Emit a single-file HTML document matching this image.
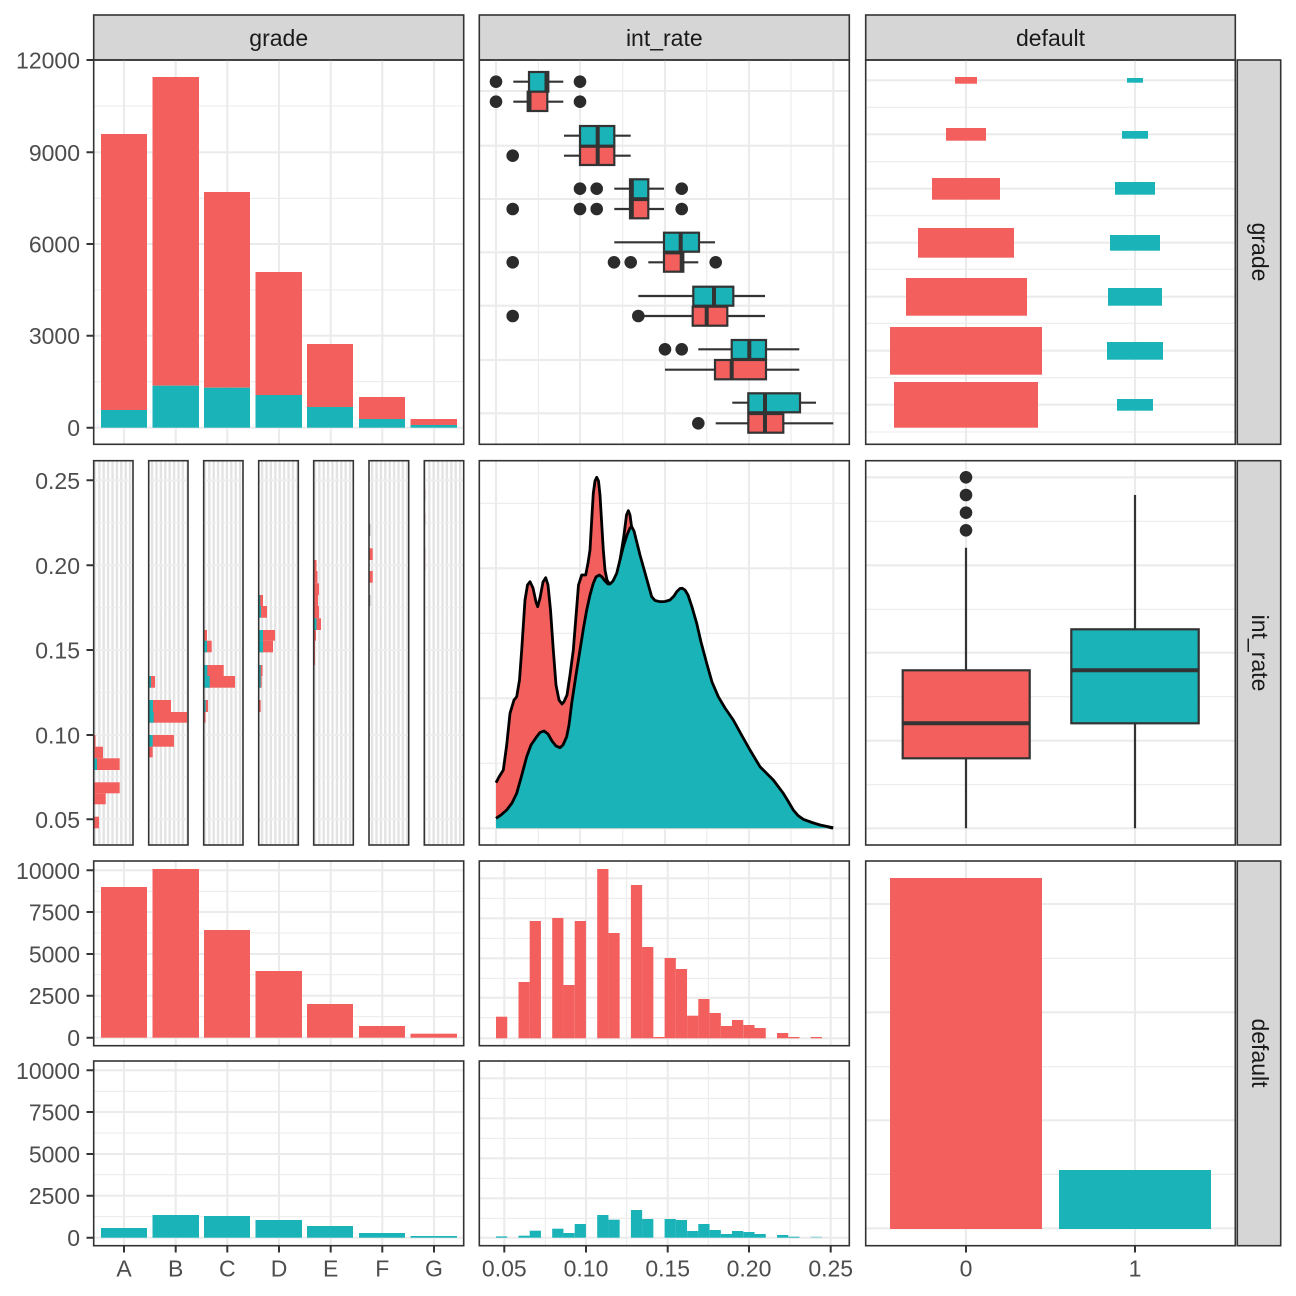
<!DOCTYPE html>
<html><head><meta charset="utf-8"><style>
html,body{margin:0;padding:0;background:#fff;}
svg{display:block;}
text{font-family:"Liberation Sans",Arial,sans-serif;}
.ax{font-size:23px;fill:#4D4D4D;}
.st{font-size:23px;fill:#1A1A1A;}
.mj{stroke:#EBEBEB;stroke-width:2.1;}
.mn{stroke:#EBEBEB;stroke-width:1.1;}
.pb{fill:none;stroke:#333;stroke-width:1.6;}
.sb{fill:#D6D6D6;stroke:#333;stroke-width:1.6;}
.tk{stroke:#333;stroke-width:2;}
.r{fill:#F25F5C;}
.t{fill:#19B3B8;}
.bx{stroke:#333;stroke-width:2.2;}
.wk{stroke:#333;stroke-width:2.2;fill:none;}
.md{stroke:#333;stroke-width:4;}
.pt{fill:#2B2B2B;}
</style></head><body>
<svg width="1296" height="1296" viewBox="0 0 1296 1296" xmlns="http://www.w3.org/2000/svg">
<defs>
<pattern id="vs" patternUnits="userSpaceOnUse" width="4.4" height="10" x="93.7" y="0">
<rect x="0" y="0" width="2.4" height="10" fill="#E3E3E3"/>
</pattern>
</defs>
<rect width="1296" height="1296" fill="#fff"/>

<!-- ===== Top strips ===== -->
<rect class="sb" x="93.7" y="15" width="370" height="45"/>
<rect class="sb" x="479.3" y="15" width="370" height="45"/>
<rect class="sb" x="865.7" y="15" width="369.6" height="45"/>
<text class="st" x="278.7" y="46" text-anchor="middle">grade</text>
<text class="st" x="664.3" y="46" text-anchor="middle">int_rate</text>
<text class="st" x="1050.5" y="46" text-anchor="middle">default</text>

<!-- ===== Right strips ===== -->
<rect class="sb" x="1237.3" y="60" width="43.4" height="384.3"/>
<rect class="sb" x="1237.3" y="460.7" width="43.4" height="384.3"/>
<rect class="sb" x="1237.3" y="861" width="43.4" height="384.7"/>
<text class="st" transform="translate(1259,252) rotate(90)" x="0" y="7" text-anchor="middle">grade</text>
<text class="st" transform="translate(1259,653) rotate(90)" x="0" y="7" text-anchor="middle">int_rate</text>
<text class="st" transform="translate(1259,1053) rotate(90)" x="0" y="7" text-anchor="middle">default</text>

<!-- ===== Row1 Col1: stacked bars ===== -->
<g>
<line class="mn" x1="93.7" x2="463.7" y1="106" y2="106"/>
<line class="mn" x1="93.7" x2="463.7" y1="198.3" y2="198.3"/>
<line class="mn" x1="93.7" x2="463.7" y1="290" y2="290"/>
<line class="mn" x1="93.7" x2="463.7" y1="381.7" y2="381.7"/>
<line class="mj" x1="93.7" x2="463.7" y1="152.3" y2="152.3"/>
<line class="mj" x1="93.7" x2="463.7" y1="244" y2="244"/>
<line class="mj" x1="93.7" x2="463.7" y1="335.7" y2="335.7"/>
<line class="mj" x1="93.7" x2="463.7" y1="427.7" y2="427.7"/>
<line class="mj" x1="124" x2="124" y1="60" y2="444.3"/>
<line class="mj" x1="175.7" x2="175.7" y1="60" y2="444.3"/>
<line class="mj" x1="227.3" x2="227.3" y1="60" y2="444.3"/>
<line class="mj" x1="279" x2="279" y1="60" y2="444.3"/>
<line class="mj" x1="330.7" x2="330.7" y1="60" y2="444.3"/>
<line class="mj" x1="382.3" x2="382.3" y1="60" y2="444.3"/>
<line class="mj" x1="434" x2="434" y1="60" y2="444.3"/>
<rect class="r" x="101" y="134" width="46" height="276"/>
<rect class="t" x="101" y="410" width="46" height="17.7"/>
<rect class="r" x="152.5" y="77" width="46.5" height="308.7"/>
<rect class="t" x="152.5" y="385.7" width="46.5" height="42"/>
<rect class="r" x="204" y="192" width="46" height="195.7"/>
<rect class="t" x="204" y="387.7" width="46" height="40"/>
<rect class="r" x="255.5" y="272" width="46.5" height="123"/>
<rect class="t" x="255.5" y="395" width="46.5" height="32.7"/>
<rect class="r" x="307" y="344" width="46" height="63"/>
<rect class="t" x="307" y="407" width="46" height="20.7"/>
<rect class="r" x="359" y="397" width="46" height="22"/>
<rect class="t" x="359" y="419" width="46" height="8.7"/>
<rect class="r" x="410.5" y="419" width="46.5" height="6"/>
<rect class="t" x="410.5" y="425" width="46.5" height="2.7"/>
<rect class="pb" x="93.7" y="60" width="370" height="384.3"/>
</g>

<!-- ===== Row1 Col2: boxplots ===== -->
<g>
<line class="mn" x1="538.3" x2="538.3" y1="60" y2="444.3"/>
<line class="mn" x1="622.7" x2="622.7" y1="60" y2="444.3"/>
<line class="mn" x1="706.7" x2="706.7" y1="60" y2="444.3"/>
<line class="mn" x1="791" x2="791" y1="60" y2="444.3"/>
<line class="mj" x1="496" x2="496" y1="60" y2="444.3"/>
<line class="mj" x1="580" x2="580" y1="60" y2="444.3"/>
<line class="mj" x1="665" x2="665" y1="60" y2="444.3"/>
<line class="mj" x1="749" x2="749" y1="60" y2="444.3"/>
<line class="mj" x1="833.3" x2="833.3" y1="60" y2="444.3"/>
<line class="mj" x1="479.3" x2="849.3" y1="91" y2="91"/>
<line class="mj" x1="479.3" x2="849.3" y1="145.7" y2="145.7"/>
<line class="mj" x1="479.3" x2="849.3" y1="199" y2="199"/>
<line class="mj" x1="479.3" x2="849.3" y1="252.3" y2="252.3"/>
<line class="mj" x1="479.3" x2="849.3" y1="305.7" y2="305.7"/>
<line class="mj" x1="479.3" x2="849.3" y1="360" y2="360"/>
<line class="mj" x1="479.3" x2="849.3" y1="413.3" y2="413.3"/>

<!-- A -->
<path class="wk" d="M513.3 81.7H529M548.3 81.7H563.3M513.3 101.7H527.7M547.3 101.7H563.3"/>
<rect class="t bx" x="529" y="72" width="19.3" height="19.7"/>
<line class="md" x1="546.5" x2="546.5" y1="72" y2="91.7"/>
<rect class="r bx" x="527.7" y="91.7" width="19.6" height="19.3"/>
<line class="md" x1="529.5" x2="529.5" y1="91.7" y2="111"/>
<circle class="pt" cx="496" cy="81.7" r="6.3"/><circle class="pt" cx="580" cy="81.7" r="6.3"/>
<circle class="pt" cx="496" cy="101.7" r="6.3"/><circle class="pt" cx="580" cy="101.7" r="6.3"/>
<!-- B -->
<path class="wk" d="M564 135.7H580M614.3 135.7H630.7M564 155.7H580M614.3 155.7H630.7"/>
<rect class="t bx" x="580" y="126" width="34.3" height="19.7"/>
<line class="md" x1="597.7" x2="597.7" y1="126" y2="145.7"/>
<rect class="r bx" x="580" y="146.7" width="34.3" height="18.3"/>
<line class="md" x1="597.7" x2="597.7" y1="146.7" y2="165"/>
<circle class="pt" cx="512.7" cy="155.7" r="6.3"/>
<!-- C -->
<path class="wk" d="M614.3 188.7H630M648.3 188.7H664M614.3 209H630M648.3 209H664"/>
<rect class="t bx" x="630" y="179.3" width="18.3" height="19"/>
<line class="md" x1="631.8" x2="631.8" y1="179.3" y2="198.3"/>
<rect class="r bx" x="630" y="200" width="18.3" height="18.3"/>
<line class="md" x1="631.8" x2="631.8" y1="200" y2="218.3"/>
<circle class="pt" cx="580" cy="188.7" r="6.3"/><circle class="pt" cx="596.7" cy="188.7" r="6.3"/><circle class="pt" cx="681.7" cy="188.7" r="6.3"/>
<circle class="pt" cx="512.7" cy="209" r="6.3"/><circle class="pt" cx="580" cy="209" r="6.3"/><circle class="pt" cx="596.7" cy="209" r="6.3"/><circle class="pt" cx="681.7" cy="209" r="6.3"/>
<!-- D -->
<path class="wk" d="M614.3 242.3H664M699 242.3H715M648.3 262.3H664M683.3 262.3H698.3"/>
<rect class="t bx" x="664" y="232.7" width="35" height="19"/>
<line class="md" x1="680.7" x2="680.7" y1="232.7" y2="251.7"/>
<rect class="r bx" x="664" y="253.3" width="19.3" height="18.4"/>
<line class="md" x1="681.7" x2="681.7" y1="253.3" y2="271.7"/>
<circle class="pt" cx="512.7" cy="262.3" r="6.3"/><circle class="pt" cx="614" cy="262.3" r="6.3"/><circle class="pt" cx="630.7" cy="262.3" r="6.3"/><circle class="pt" cx="715.7" cy="262.3" r="6.3"/>
<!-- E -->
<path class="wk" d="M638.3 296H693.3M733.3 296H765M638.3 316H692.7M727.3 316H765"/>
<rect class="t bx" x="693.3" y="286.7" width="40" height="19"/>
<line class="md" x1="714" x2="714" y1="286.7" y2="305.7"/>
<rect class="r bx" x="692.7" y="306.7" width="34.6" height="19"/>
<line class="md" x1="706.7" x2="706.7" y1="306.7" y2="325.7"/>
<circle class="pt" cx="512.7" cy="316" r="6.3"/><circle class="pt" cx="638.3" cy="316" r="6.3"/>
<!-- F -->
<path class="wk" d="M698.3 349.3H731.7M766 349.3H799.3M665 369.7H715M766 369.7H799.3"/>
<rect class="t bx" x="731.7" y="340" width="34.3" height="19"/>
<line class="md" x1="749.3" x2="749.3" y1="340" y2="359"/>
<rect class="r bx" x="715" y="360" width="51" height="19.3"/>
<line class="md" x1="731.7" x2="731.7" y1="360" y2="379.3"/>
<circle class="pt" cx="665" cy="349.3" r="6.3"/><circle class="pt" cx="681.7" cy="349.3" r="6.3"/>
<!-- G -->
<path class="wk" d="M732.3 402.7H748.3M800 402.7H816M715.7 423.3H748.3M783.3 423.3H833.3"/>
<rect class="t bx" x="748.3" y="393.3" width="51.7" height="19"/>
<line class="md" x1="765" x2="765" y1="393.3" y2="412.3"/>
<rect class="r bx" x="748.3" y="414" width="35" height="18.7"/>
<line class="md" x1="765" x2="765" y1="414" y2="432.7"/>
<circle class="pt" cx="698.3" cy="423.3" r="6.3"/>
<rect class="pb" x="479.3" y="60" width="370" height="384.3"/>
</g>

<!-- ===== Row1 Col3: bars by grade ===== -->
<g>
<line class="mn" x1="865.7" x2="1235.3" y1="107.3" y2="107.3"/>
<line class="mn" x1="865.7" x2="1235.3" y1="161.7" y2="161.7"/>
<line class="mn" x1="865.7" x2="1235.3" y1="215.7" y2="215.7"/>
<line class="mn" x1="865.7" x2="1235.3" y1="269.3" y2="269.3"/>
<line class="mn" x1="865.7" x2="1235.3" y1="323.3" y2="323.3"/>
<line class="mn" x1="865.7" x2="1235.3" y1="377.7" y2="377.7"/>
<line class="mn" x1="865.7" x2="1235.3" y1="432" y2="432"/>
<line class="mj" x1="865.7" x2="1235.3" y1="80.3" y2="80.3"/>
<line class="mj" x1="865.7" x2="1235.3" y1="134.3" y2="134.3"/>
<line class="mj" x1="865.7" x2="1235.3" y1="188.7" y2="188.7"/>
<line class="mj" x1="865.7" x2="1235.3" y1="242.7" y2="242.7"/>
<line class="mj" x1="865.7" x2="1235.3" y1="296.7" y2="296.7"/>
<line class="mj" x1="865.7" x2="1235.3" y1="350.7" y2="350.7"/>
<line class="mj" x1="865.7" x2="1235.3" y1="404.7" y2="404.7"/>
<line class="mj" x1="966" x2="966" y1="60" y2="444.3"/>
<line class="mj" x1="1135" x2="1135" y1="60" y2="444.3"/>
<rect class="r" x="955" y="77" width="22" height="6.7"/>
<rect class="r" x="946" y="128" width="40" height="12.7"/>
<rect class="r" x="932" y="178" width="68" height="21.7"/>
<rect class="r" x="918" y="228" width="96" height="29.7"/>
<rect class="r" x="906" y="278" width="121" height="37.7"/>
<rect class="r" x="890" y="327" width="152" height="47.7"/>
<rect class="r" x="894" y="382" width="144" height="45.7"/>
<rect class="t" x="1127" y="78" width="16" height="4.7"/>
<rect class="t" x="1122" y="131" width="26" height="7.7"/>
<rect class="t" x="1115" y="182" width="40" height="12.7"/>
<rect class="t" x="1110" y="235" width="50" height="15.7"/>
<rect class="t" x="1108" y="288" width="54" height="17.7"/>
<rect class="t" x="1107" y="342" width="56" height="17.7"/>
<rect class="t" x="1117" y="399" width="36" height="11.7"/>
<rect class="pb" x="865.7" y="60" width="369.6" height="384.3"/>
</g>

<!-- ===== Row2 Col1: per-grade horizontal histograms ===== -->
<g>
<g fill="url(#vs)">
<rect x="93.7" y="460.7" width="39.3" height="384.3"/>
<rect x="148.7" y="460.7" width="39.3" height="384.3"/>
<rect x="203.7" y="460.7" width="39.3" height="384.3"/>
<rect x="258.7" y="460.7" width="39.6" height="384.3"/>
<rect x="313.7" y="460.7" width="39.6" height="384.3"/>
<rect x="369" y="460.7" width="39.7" height="384.3"/>
<rect x="424.3" y="460.7" width="39.4" height="384.3"/>
</g>
<g stroke="#EDEDED" stroke-width="1.8">
<path d="M93.7 480.3H133M148.7 480.3H188M203.7 480.3H243M258.7 480.3H298.3M313.7 480.3H353.3M369 480.3H408.7M424.3 480.3H463.7"/>
<path d="M93.7 565.3H133M148.7 565.3H188M203.7 565.3H243M258.7 565.3H298.3M313.7 565.3H353.3M369 565.3H408.7M424.3 565.3H463.7"/>
<path d="M93.7 650H133M148.7 650H188M203.7 650H243M258.7 650H298.3M313.7 650H353.3M369 650H408.7M424.3 650H463.7"/>
<path d="M93.7 735H133M148.7 735H188M203.7 735H243M258.7 735H298.3M313.7 735H353.3M369 735H408.7M424.3 735H463.7"/>
<path d="M93.7 819.3H133M148.7 819.3H188M203.7 819.3H243M258.7 819.3H298.3M313.7 819.3H353.3M369 819.3H408.7M424.3 819.3H463.7"/>
</g>
<g stroke="#EDEDED" stroke-width="1">
<path d="M93.7 522.8H133M148.7 522.8H188M203.7 522.8H243M258.7 522.8H298.3M313.7 522.8H353.3M369 522.8H408.7M424.3 522.8H463.7"/>
<path d="M93.7 607.7H133M148.7 607.7H188M203.7 607.7H243M258.7 607.7H298.3M313.7 607.7H353.3M369 607.7H408.7M424.3 607.7H463.7"/>
<path d="M93.7 692.5H133M148.7 692.5H188M203.7 692.5H243M258.7 692.5H298.3M313.7 692.5H353.3M369 692.5H408.7M424.3 692.5H463.7"/>
<path d="M93.7 777H133M148.7 777H188M203.7 777H243M258.7 777H298.3M313.7 777H353.3M369 777H408.7M424.3 777H463.7"/>
</g>
<!-- A -->
<rect class="r" x="93.7" y="816.7" width="5.3" height="11.6"/>
<rect class="r" x="93.7" y="793.3" width="12" height="11"/>
<rect class="r" x="93.7" y="782.3" width="26" height="11"/>
<rect class="r" x="93.7" y="758.3" width="26" height="11.7"/>
<rect class="t" x="93.7" y="758.3" width="3.3" height="11.7"/>
<rect class="r" x="93.7" y="746.7" width="9.3" height="11.6"/>
<rect class="r" x="93.7" y="735" width="1.8" height="11.7"/>
<!-- B -->
<rect class="r" x="148.7" y="676" width="6.3" height="11.7"/>
<rect class="t" x="148.7" y="676" width="2.3" height="11.7"/>
<rect class="r" x="148.7" y="700" width="22.3" height="12"/>
<rect class="t" x="148.7" y="700" width="4.3" height="12"/>
<rect class="r" x="148.7" y="712" width="38.3" height="10.7"/>
<rect class="t" x="148.7" y="712" width="5" height="10.7"/>
<rect class="r" x="148.7" y="735" width="25.3" height="11.7"/>
<rect class="t" x="148.7" y="735" width="4" height="11.7"/>
<rect class="r" x="148.7" y="746.7" width="4" height="10.6"/>
<!-- C -->
<rect class="r" x="203.7" y="630" width="3.3" height="10.7"/>
<rect class="r" x="203.7" y="640.7" width="8" height="11.6"/>
<rect class="t" x="203.7" y="640.7" width="3.3" height="11.6"/>
<rect class="r" x="203.7" y="665" width="20" height="11"/>
<rect class="t" x="203.7" y="665" width="3.6" height="11"/>
<rect class="r" x="203.7" y="676" width="31.3" height="11.7"/>
<rect class="t" x="203.7" y="676" width="6" height="11.7"/>
<rect class="r" x="203.7" y="700" width="4.3" height="12"/>
<rect class="t" x="203.7" y="700" width="2" height="12"/>
<rect class="r" x="203.7" y="712" width="1.8" height="10.7"/>
<!-- D -->
<rect class="r" x="258.7" y="595" width="4.3" height="11"/>
<rect class="t" x="258.7" y="595" width="1.5" height="11"/>
<rect class="r" x="258.7" y="606" width="8.3" height="11.7"/>
<rect class="t" x="258.7" y="606" width="2.3" height="11.7"/>
<rect class="r" x="258.7" y="630" width="16.3" height="10.7"/>
<rect class="t" x="258.7" y="630" width="4.3" height="10.7"/>
<rect class="r" x="258.7" y="640.7" width="14.3" height="11.6"/>
<rect class="t" x="258.7" y="640.7" width="4.3" height="11.6"/>
<rect class="r" x="258.7" y="665" width="3.8" height="11"/>
<rect class="t" x="258.7" y="665" width="2" height="11"/>
<rect class="r" x="258.7" y="676" width="3" height="11.7"/>
<rect class="t" x="258.7" y="676" width="2" height="11.7"/>
<rect class="r" x="258.7" y="700" width="2" height="12"/>
<!-- E -->
<rect class="r" x="313.7" y="560" width="2.8" height="11"/>
<rect class="r" x="313.7" y="571" width="3.8" height="12.3"/>
<rect class="r" x="313.7" y="583.3" width="5.3" height="11.7"/>
<rect class="r" x="313.7" y="595" width="4.3" height="11"/>
<rect class="r" x="313.7" y="606" width="5.3" height="12.3"/>
<rect class="r" x="313.7" y="618.3" width="7.3" height="11.7"/>
<rect class="t" x="313.7" y="618.3" width="2.8" height="11.7"/>
<rect class="r" x="313.7" y="630" width="2.3" height="10.7"/>
<rect class="r" x="313.7" y="640.7" width="1.3" height="24.3"/>
<!-- F -->
<rect fill="#9A8A8A" x="369" y="524" width="1.3" height="12"/>
<rect class="r" x="369" y="548.3" width="3.7" height="11.7"/>
<rect class="r" x="369" y="571" width="3.7" height="11.7"/>
<rect fill="#9A8A8A" x="369" y="595" width="1.3" height="11"/>
<!-- G -->
<rect fill="#C9B0AE" x="424.3" y="489" width="1.2" height="11.7"/>
<rect fill="#C9B0AE" x="424.3" y="513" width="1.2" height="12"/>
<rect fill="#C9B0AE" x="424.3" y="548" width="1.2" height="22"/>
<rect class="pb" x="93.7" y="460.7" width="39.3" height="384.3"/>
<rect class="pb" x="148.7" y="460.7" width="39.3" height="384.3"/>
<rect class="pb" x="203.7" y="460.7" width="39.3" height="384.3"/>
<rect class="pb" x="258.7" y="460.7" width="39.6" height="384.3"/>
<rect class="pb" x="313.7" y="460.7" width="39.6" height="384.3"/>
<rect class="pb" x="369" y="460.7" width="39.7" height="384.3"/>
<rect class="pb" x="424.3" y="460.7" width="39.4" height="384.3"/>
</g>

<!-- ===== Row2 Col2: density ===== -->
<g>
<line class="mn" x1="538.3" x2="538.3" y1="460.7" y2="845"/>
<line class="mn" x1="622.7" x2="622.7" y1="460.7" y2="845"/>
<line class="mn" x1="706.7" x2="706.7" y1="460.7" y2="845"/>
<line class="mn" x1="791" x2="791" y1="460.7" y2="845"/>
<line class="mj" x1="496" x2="496" y1="460.7" y2="845"/>
<line class="mj" x1="580" x2="580" y1="460.7" y2="845"/>
<line class="mj" x1="665" x2="665" y1="460.7" y2="845"/>
<line class="mj" x1="749" x2="749" y1="460.7" y2="845"/>
<line class="mj" x1="833.3" x2="833.3" y1="460.7" y2="845"/>
<line class="mn" x1="479.3" x2="849.3" y1="503.3" y2="503.3"/>
<line class="mn" x1="479.3" x2="849.3" y1="633.3" y2="633.3"/>
<line class="mn" x1="479.3" x2="849.3" y1="763.3" y2="763.3"/>
<line class="mj" x1="479.3" x2="849.3" y1="568.3" y2="568.3"/>
<line class="mj" x1="479.3" x2="849.3" y1="698.3" y2="698.3"/>
<line class="mj" x1="479.3" x2="849.3" y1="828.3" y2="828.3"/>
<path class="r" d="M496 828.3 L496 782.7 L499 777 L503.3 770 L506.7 745 L510 713.3 L514 700 L516.7 696.7 L519.5 680 L521.7 650 L525 600 L527.5 585 L530 581.7 L533 588 L536 602 L537.7 606.7 L540 598 L543 582 L545.7 577.7 L548 585 L550.5 610 L553.3 650 L556 685 L559 700 L562 704 L564 701.7 L567 695 L570 675 L573.3 650 L576.5 610 L578.5 585 L581.7 575 L585.7 575 L588 563 L590 550 L592 515 L593.3 493.3 L595 481 L596.7 477.3 L598.5 481 L600 495 L601.5 520 L603.3 550 L605 570 L607 580 L612 588 L616 578 L620 560 L624 535 L626.5 515 L628.3 510.7 L630 515 L632 530 L636 560 L645 590 L660 615 L680 610 L700 650 L720 710 L750 765 L780 800 L800 820 L833 828.3 Z"/>
<path fill="none" stroke="#000" stroke-width="2.8" stroke-linejoin="round" d="M496 782.7 L499 777 L503.3 770 L506.7 745 L510 713.3 L514 700 L516.7 696.7 L519.5 680 L521.7 650 L525 600 L527.5 585 L530 581.7 L533 588 L536 602 L537.7 606.7 L540 598 L543 582 L545.7 577.7 L548 585 L550.5 610 L553.3 650 L556 685 L559 700 L562 704 L564 701.7 L567 695 L570 675 L573.3 650 L576.5 610 L578.5 585 L581.7 575 L585.7 575 L588 563 L590 550 L592 515 L593.3 493.3 L595 481 L596.7 477.3 L598.5 481 L600 495 L601.5 520 L603.3 550 L605 570 L607 580 L612 588 L616 578 L620 560 L624 535 L626.5 515 L628.3 510.7 L630 515 L632 530 L636 560 L645 590 L660 615 L680 610 L700 650 L720 710 L750 765 L780 800 L800 820 L833 828.3"/>
<path class="t" d="M496 828.3 L496 818.3 L501 815 L506.7 810 L512 803 L516.7 793.3 L521 778 L526.7 756.7 L531 745 L536.7 736.7 L540 732.5 L544 731 L548 734 L552 741 L556 746 L560 747.7 L563 745 L566.7 736.7 L569 725 L571.7 703.3 L576 675 L580 650 L583.5 628 L586.7 610 L590 595 L593.3 583.3 L596 577 L599.3 575 L602 577 L605 581 L608 584 L610 584 L613 581 L616.7 573.3 L620 560 L623.3 546.7 L627 535 L630 528 L631.7 526.7 L634 531 L637 543 L640 555 L643.3 566.7 L647 580 L651.7 596.7 L655 600.5 L660 601.7 L665 601.5 L670 600 L674 596 L676.7 591.7 L680 588.5 L682.3 588.3 L685 590 L688 595 L692 607 L696.7 623.3 L701 642 L706.7 663.3 L712 682 L718.3 696.7 L725 708 L733.3 720 L741 734 L750 750 L760 766.7 L773.3 780 L783.3 793.3 L788 801 L793.3 810 L798 815.5 L803.3 819.3 L812 822.5 L820 825 L833.3 827.7 L833.3 828.3 Z"/>
<path fill="none" stroke="#000" stroke-width="2.8" stroke-linejoin="round" d="M496 818.3 L501 815 L506.7 810 L512 803 L516.7 793.3 L521 778 L526.7 756.7 L531 745 L536.7 736.7 L540 732.5 L544 731 L548 734 L552 741 L556 746 L560 747.7 L563 745 L566.7 736.7 L569 725 L571.7 703.3 L576 675 L580 650 L583.5 628 L586.7 610 L590 595 L593.3 583.3 L596 577 L599.3 575 L602 577 L605 581 L608 584 L610 584 L613 581 L616.7 573.3 L620 560 L623.3 546.7 L627 535 L630 528 L631.7 526.7 L634 531 L637 543 L640 555 L643.3 566.7 L647 580 L651.7 596.7 L655 600.5 L660 601.7 L665 601.5 L670 600 L674 596 L676.7 591.7 L680 588.5 L682.3 588.3 L685 590 L688 595 L692 607 L696.7 623.3 L701 642 L706.7 663.3 L712 682 L718.3 696.7 L725 708 L733.3 720 L741 734 L750 750 L760 766.7 L773.3 780 L783.3 793.3 L788 801 L793.3 810 L798 815.5 L803.3 819.3 L812 822.5 L820 825 L833.3 827.7"/>
<rect class="pb" x="479.3" y="460.7" width="370" height="384.3"/>
</g>

<!-- ===== Row2 Col3: boxplots by default ===== -->
<g>
<line class="mn" x1="865.7" x2="1235.3" y1="521.3" y2="521.3"/>
<line class="mn" x1="865.7" x2="1235.3" y1="609.3" y2="609.3"/>
<line class="mn" x1="865.7" x2="1235.3" y1="696.7" y2="696.7"/>
<line class="mn" x1="865.7" x2="1235.3" y1="784.7" y2="784.7"/>
<line class="mj" x1="865.7" x2="1235.3" y1="477.3" y2="477.3"/>
<line class="mj" x1="865.7" x2="1235.3" y1="565.3" y2="565.3"/>
<line class="mj" x1="865.7" x2="1235.3" y1="652.7" y2="652.7"/>
<line class="mj" x1="865.7" x2="1235.3" y1="740.7" y2="740.7"/>
<line class="mj" x1="865.7" x2="1235.3" y1="828.3" y2="828.3"/>
<line class="mj" x1="966" x2="966" y1="460.7" y2="845"/>
<line class="mj" x1="1135" x2="1135" y1="460.7" y2="845"/>
<path class="wk" d="M966 547.7V670.3M966 758.3V828.3M1135 495V629.3M1135 723.3V828.3"/>
<rect class="r bx" x="902.7" y="670.3" width="127" height="88"/>
<line class="md" x1="902.7" x2="1029.7" y1="723.3" y2="723.3"/>
<rect class="t bx" x="1071.3" y="629.3" width="127.4" height="94"/>
<line class="md" x1="1071.3" x2="1198.7" y1="670.3" y2="670.3"/>
<circle class="pt" cx="966" cy="477.3" r="6.3"/>
<circle class="pt" cx="966" cy="495" r="6.3"/>
<circle class="pt" cx="966" cy="512.7" r="6.3"/>
<circle class="pt" cx="966" cy="530.3" r="6.3"/>
<rect class="pb" x="865.7" y="460.7" width="369.6" height="384.3"/>
</g>

<!-- ===== Row3 Col1 upper (default 0) ===== -->
<g>
<line class="mn" x1="93.7" x2="463.7" y1="891.3" y2="891.3"/>
<line class="mn" x1="93.7" x2="463.7" y1="933" y2="933"/>
<line class="mn" x1="93.7" x2="463.7" y1="974.7" y2="974.7"/>
<line class="mn" x1="93.7" x2="463.7" y1="1016.7" y2="1016.7"/>
<line class="mj" x1="93.7" x2="463.7" y1="870.3" y2="870.3"/>
<line class="mj" x1="93.7" x2="463.7" y1="912" y2="912"/>
<line class="mj" x1="93.7" x2="463.7" y1="954" y2="954"/>
<line class="mj" x1="93.7" x2="463.7" y1="995.7" y2="995.7"/>
<line class="mj" x1="93.7" x2="463.7" y1="1037.7" y2="1037.7"/>
<path class="mj" d="M124 861V1045.7M175.7 861V1045.7M227.3 861V1045.7M279 861V1045.7M330.7 861V1045.7M382.3 861V1045.7M434 861V1045.7"/>
<rect class="r" x="101" y="887" width="46" height="150.7"/>
<rect class="r" x="152.5" y="869" width="46.5" height="168.7"/>
<rect class="r" x="204" y="930" width="46" height="107.7"/>
<rect class="r" x="255.5" y="971" width="46.5" height="66.7"/>
<rect class="r" x="307" y="1004" width="46" height="33.7"/>
<rect class="r" x="359" y="1026" width="46" height="11.7"/>
<rect class="r" x="410.5" y="1033.7" width="46.5" height="4"/>
<rect class="pb" x="93.7" y="861" width="370" height="184.7"/>
</g>

<!-- ===== Row3 Col1 lower (default 1) ===== -->
<g>
<line class="mn" x1="93.7" x2="463.7" y1="1091.3" y2="1091.3"/>
<line class="mn" x1="93.7" x2="463.7" y1="1133" y2="1133"/>
<line class="mn" x1="93.7" x2="463.7" y1="1174.7" y2="1174.7"/>
<line class="mn" x1="93.7" x2="463.7" y1="1216.7" y2="1216.7"/>
<line class="mj" x1="93.7" x2="463.7" y1="1070.3" y2="1070.3"/>
<line class="mj" x1="93.7" x2="463.7" y1="1112" y2="1112"/>
<line class="mj" x1="93.7" x2="463.7" y1="1154" y2="1154"/>
<line class="mj" x1="93.7" x2="463.7" y1="1195.7" y2="1195.7"/>
<line class="mj" x1="93.7" x2="463.7" y1="1237.7" y2="1237.7"/>
<path class="mj" d="M124 1061V1245.7M175.7 1061V1245.7M227.3 1061V1245.7M279 1061V1245.7M330.7 1061V1245.7M382.3 1061V1245.7M434 1061V1245.7"/>
<rect class="t" x="101" y="1228" width="46" height="9.7"/>
<rect class="t" x="152.5" y="1215" width="46.5" height="22.7"/>
<rect class="t" x="204" y="1216" width="46" height="21.7"/>
<rect class="t" x="255.5" y="1220" width="46.5" height="17.7"/>
<rect class="t" x="307" y="1226" width="46" height="11.7"/>
<rect class="t" x="359" y="1233" width="46" height="4.7"/>
<rect class="t" x="410.5" y="1236" width="46.5" height="1.7"/>
<rect class="pb" x="93.7" y="1061" width="370" height="184.7"/>
</g>

<!-- ===== Row3 Col2 upper/lower histograms ===== -->
<g>
<path class="mn" d="M545.3 861V1045.7M626.7 861V1045.7M708.3 861V1045.7M790 861V1045.7M545.3 1061V1245.7M626.7 1061V1245.7M708.3 1061V1245.7M790 1061V1245.7"/>
<path class="mj" d="M504.3 861V1045.7M586 861V1045.7M667.7 861V1045.7M749 861V1045.7M830.7 861V1045.7M504.3 1061V1245.7M586 1061V1245.7M667.7 1061V1245.7M749 1061V1245.7M830.7 1061V1245.7"/>
<path class="mn" d="M479.3 898.3H849.3M479.3 938.3H849.3M479.3 978.3H849.3M479.3 1017.7H849.3M479.3 1098.3H849.3M479.3 1138.3H849.3M479.3 1178.3H849.3M479.3 1218.3H849.3"/>
<path class="mj" d="M479.3 878.3H849.3M479.3 918.3H849.3M479.3 958.3H849.3M479.3 997.7H849.3M479.3 1038.3H849.3M479.3 1078.3H849.3M479.3 1118.3H849.3M479.3 1158.3H849.3M479.3 1198.3H849.3M479.3 1237.7H849.3"/>
<g class="r">
<rect x="496" y="1016.7" width="11.24" height="21.6"/>
<rect x="518.5" y="982" width="11.24" height="56.3"/>
<rect x="529.7" y="921" width="11.24" height="117.3"/>
<rect x="552.2" y="918" width="11.24" height="120.3"/>
<rect x="563.4" y="985" width="11.24" height="53.3"/>
<rect x="574.7" y="921" width="11.24" height="117.3"/>
<rect x="597.2" y="869" width="11.24" height="169.3"/>
<rect x="608.4" y="933" width="11.24" height="105.3"/>
<rect x="630.9" y="885" width="11.24" height="153.3"/>
<rect x="642.1" y="947" width="11.24" height="91.3"/>
<rect x="653.4" y="1037" width="11.24" height="1.3"/>
<rect x="664.6" y="958" width="11.24" height="80.3"/>
<rect x="675.8" y="969" width="11.24" height="69.3"/>
<rect x="687.1" y="1015.7" width="11.24" height="22.6"/>
<rect x="698.3" y="999" width="11.24" height="39.3"/>
<rect x="709.6" y="1013" width="11.24" height="25.3"/>
<rect x="720.8" y="1026" width="11.24" height="12.3"/>
<rect x="732" y="1020" width="11.24" height="18.3"/>
<rect x="743.3" y="1025" width="11.24" height="13.3"/>
<rect x="754.5" y="1028" width="11.24" height="10.3"/>
<rect x="777" y="1033" width="11.24" height="5.3"/>
<rect x="788.2" y="1037" width="11.24" height="1.3"/>
<rect x="810.7" y="1037" width="11.24" height="1.3"/>
</g>
<g class="t">
<rect x="496" y="1236.4" width="11.24" height="1.3"/>
<rect x="518.5" y="1235.7" width="11.24" height="2"/>
<rect x="529.7" y="1230.7" width="11.24" height="7"/>
<rect x="552.2" y="1228.7" width="11.24" height="9"/>
<rect x="563.4" y="1233" width="11.24" height="4.7"/>
<rect x="574.7" y="1224" width="11.24" height="13.7"/>
<rect x="597.2" y="1215" width="11.24" height="22.7"/>
<rect x="608.4" y="1219.7" width="11.24" height="18"/>
<rect x="630.9" y="1210" width="11.24" height="27.7"/>
<rect x="642.1" y="1219" width="11.24" height="18.7"/>
<rect x="664.6" y="1219" width="11.24" height="18.7"/>
<rect x="675.8" y="1220" width="11.24" height="17.7"/>
<rect x="687.1" y="1231" width="11.24" height="6.7"/>
<rect x="698.3" y="1224" width="11.24" height="13.7"/>
<rect x="709.6" y="1230" width="11.24" height="7.7"/>
<rect x="720.8" y="1234" width="11.24" height="3.7"/>
<rect x="732" y="1231" width="11.24" height="6.7"/>
<rect x="743.3" y="1232" width="11.24" height="5.7"/>
<rect x="754.5" y="1234" width="11.24" height="3.7"/>
<rect x="777" y="1235" width="11.24" height="2.7"/>
<rect x="788.2" y="1236.7" width="11.24" height="1"/>
<rect x="810.7" y="1236.7" width="11.24" height="1" opacity="0.5"/>
</g>
<rect class="pb" x="479.3" y="861" width="370" height="184.7"/>
<rect class="pb" x="479.3" y="1061" width="370" height="184.7"/>
</g>

<!-- ===== Row3 Col3: bar of default ===== -->
<g>
<line class="mn" x1="865.7" x2="1235.3" y1="958.3" y2="958.3"/>
<line class="mn" x1="865.7" x2="1235.3" y1="1066.7" y2="1066.7"/>
<line class="mn" x1="865.7" x2="1235.3" y1="1174.3" y2="1174.3"/>
<line class="mj" x1="865.7" x2="1235.3" y1="904" y2="904"/>
<line class="mj" x1="865.7" x2="1235.3" y1="1012.3" y2="1012.3"/>
<line class="mj" x1="865.7" x2="1235.3" y1="1120.3" y2="1120.3"/>
<line class="mj" x1="865.7" x2="1235.3" y1="1228.3" y2="1228.3"/>
<line class="mj" x1="966" x2="966" y1="861" y2="1245.7"/>
<line class="mj" x1="1135" x2="1135" y1="861" y2="1245.7"/>
<rect class="r" x="890" y="878" width="152" height="351"/>
<rect class="t" x="1059" y="1170" width="152" height="59"/>
<rect class="pb" x="865.7" y="861" width="369.6" height="384.7"/>
</g>

<!-- ===== Left axis ticks & labels ===== -->
<path class="tk" d="M86.5 60H93.7M86.5 152.3H93.7M86.5 244H93.7M86.5 335.7H93.7M86.5 427.7H93.7"/>
<text class="ax" x="80" y="68.5" text-anchor="end">12000</text>
<text class="ax" x="80" y="160.8" text-anchor="end">9000</text>
<text class="ax" x="80" y="252.5" text-anchor="end">6000</text>
<text class="ax" x="80" y="344.2" text-anchor="end">3000</text>
<text class="ax" x="80" y="436.2" text-anchor="end">0</text>

<path class="tk" d="M86.5 480.3H93.7M86.5 565.3H93.7M86.5 650H93.7M86.5 735H93.7M86.5 819.3H93.7"/>
<text class="ax" x="80" y="488.8" text-anchor="end">0.25</text>
<text class="ax" x="80" y="573.8" text-anchor="end">0.20</text>
<text class="ax" x="80" y="658.5" text-anchor="end">0.15</text>
<text class="ax" x="80" y="743.5" text-anchor="end">0.10</text>
<text class="ax" x="80" y="827.8" text-anchor="end">0.05</text>

<path class="tk" d="M86.5 870.3H93.7M86.5 912H93.7M86.5 954H93.7M86.5 995.7H93.7M86.5 1037.7H93.7"/>
<text class="ax" x="80" y="878.8" text-anchor="end">10000</text>
<text class="ax" x="80" y="920.5" text-anchor="end">7500</text>
<text class="ax" x="80" y="962.5" text-anchor="end">5000</text>
<text class="ax" x="80" y="1004.2" text-anchor="end">2500</text>
<text class="ax" x="80" y="1046.2" text-anchor="end">0</text>

<path class="tk" d="M86.5 1070.3H93.7M86.5 1112H93.7M86.5 1154H93.7M86.5 1195.7H93.7M86.5 1237.7H93.7"/>
<text class="ax" x="80" y="1078.8" text-anchor="end">10000</text>
<text class="ax" x="80" y="1120.5" text-anchor="end">7500</text>
<text class="ax" x="80" y="1162.5" text-anchor="end">5000</text>
<text class="ax" x="80" y="1204.2" text-anchor="end">2500</text>
<text class="ax" x="80" y="1246.2" text-anchor="end">0</text>

<!-- ===== Bottom axis ticks & labels ===== -->
<path class="tk" d="M124 1245.7V1252.5M175.7 1245.7V1252.5M227.3 1245.7V1252.5M279 1245.7V1252.5M330.7 1245.7V1252.5M382.3 1245.7V1252.5M434 1245.7V1252.5"/>
<text class="ax" x="124" y="1276.5" text-anchor="middle">A</text>
<text class="ax" x="175.7" y="1276.5" text-anchor="middle">B</text>
<text class="ax" x="227.3" y="1276.5" text-anchor="middle">C</text>
<text class="ax" x="279" y="1276.5" text-anchor="middle">D</text>
<text class="ax" x="330.7" y="1276.5" text-anchor="middle">E</text>
<text class="ax" x="382.3" y="1276.5" text-anchor="middle">F</text>
<text class="ax" x="434" y="1276.5" text-anchor="middle">G</text>

<path class="tk" d="M504.3 1245.7V1252.5M586 1245.7V1252.5M667.7 1245.7V1252.5M749 1245.7V1252.5M830.7 1245.7V1252.5"/>
<text class="ax" x="504.3" y="1276.5" text-anchor="middle">0.05</text>
<text class="ax" x="586" y="1276.5" text-anchor="middle">0.10</text>
<text class="ax" x="667.7" y="1276.5" text-anchor="middle">0.15</text>
<text class="ax" x="749" y="1276.5" text-anchor="middle">0.20</text>
<text class="ax" x="830.7" y="1276.5" text-anchor="middle">0.25</text>

<path class="tk" d="M966 1245.7V1252.5M1135 1245.7V1252.5"/>
<text class="ax" x="966" y="1276.5" text-anchor="middle">0</text>
<text class="ax" x="1135" y="1276.5" text-anchor="middle">1</text>
</svg>
</body></html>
